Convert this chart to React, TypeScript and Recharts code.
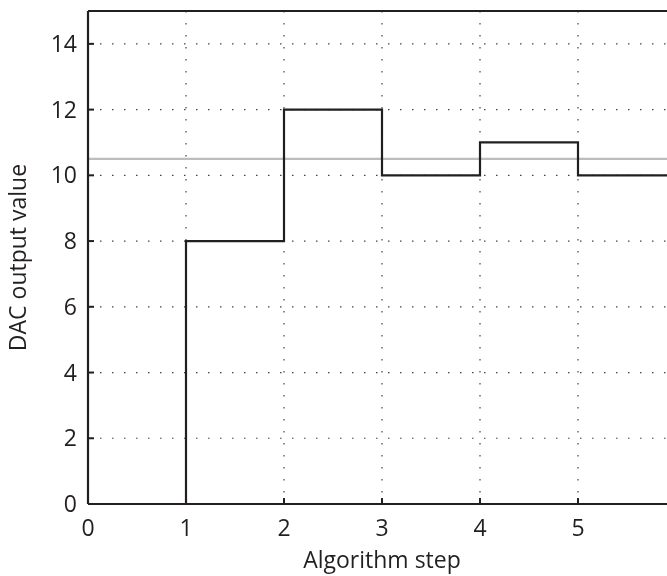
import React from 'react';
import {
  LineChart,
  Line,
  XAxis,
  YAxis,
  CartesianGrid,
  ReferenceLine
} from 'recharts';

// algorithm steps and the DAC value held during each one
const steps = [0, 1, 2, 3, 4, 5, 6];
const dacValues = [0, 8, 12, 10, 11, 10, 10];
const targetLevel = 10.5;

const xTicks = [0, 1, 2, 3, 4, 5];
const yTicks = [0, 2, 4, 6, 8, 10, 12, 14];

const chartData = steps.map((s, i) => ({ step: s, dac: dacValues[i] }));

const ink = '#231f20';
const font = '"Open Sans", "DejaVu Sans", sans-serif';
const fontSize = 23;
const tickStyle = { fill: ink, fontSize, fontFamily: font };

const App: React.FC = () => {
  return (
    // pinned to the window; the plot runs past the right edge like the source figure
    <div
      style={{
        position: 'fixed',
        top: 0,
        left: 0,
        width: 667,
        height: 576,
        overflow: 'hidden'
      }}
    >
      <LineChart
        width={700}
        height={576}
        data={chartData}
        margin={{ top: 10, right: 24, left: 0, bottom: 0 }}
      >
        <CartesianGrid
          stroke="#444"
          strokeWidth={1.2}
          strokeDasharray="1.5 10.5"
          verticalValues={xTicks}
          horizontalValues={yTicks}
        />
        <XAxis
          dataKey="step"
          type="number"
          domain={[0, 6]}
          ticks={xTicks}
          height={72}
          tickSize={-6}
          tickMargin={22}
          tick={tickStyle}
          axisLine={{ stroke: ink, strokeWidth: 2.2 }}
          tickLine={{ stroke: ink, strokeWidth: 2 }}
          label={{
            value: 'Algorithm step',
            position: 'insideBottom',
            offset: 8,
            fill: ink,
            fontSize,
            fontFamily: font
          }}
        />
        <XAxis
          xAxisId="top"
          orientation="top"
          dataKey="step"
          type="number"
          domain={[0, 6]}
          ticks={xTicks}
          height={1}
          tickSize={-6}
          tick={false}
          axisLine={{ stroke: ink, strokeWidth: 2.2 }}
          tickLine={{ stroke: ink, strokeWidth: 2 }}
        />
        <YAxis
          type="number"
          domain={[0, 15]}
          ticks={yTicks}
          width={88}
          tickSize={-6}
          tickMargin={17}
          tick={tickStyle}
          axisLine={{ stroke: ink, strokeWidth: 2.2 }}
          tickLine={{ stroke: ink, strokeWidth: 2 }}
          label={{
            value: 'DAC output value',
            angle: -90,
            position: 'insideLeft',
            offset: 18,
            fill: ink,
            fontSize,
            fontFamily: font,
            style: { textAnchor: 'middle' }
          }}
        />
        <ReferenceLine y={targetLevel} stroke="#bdbdbd" strokeWidth={2.2} />
        <Line
          type="stepAfter"
          dataKey="dac"
          stroke={ink}
          strokeWidth={2.2}
          dot={false}
          isAnimationActive={false}
        />
      </LineChart>
    </div>
  );
};

export default App;
